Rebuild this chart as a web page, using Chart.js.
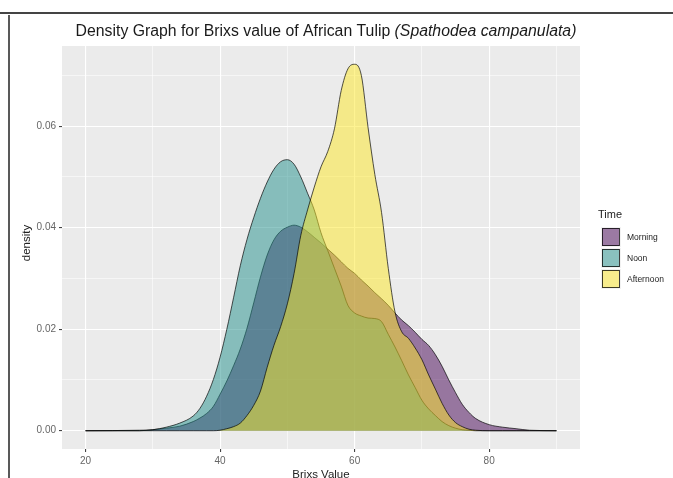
<!DOCTYPE html>
<html>
<head>
<meta charset="utf-8">
<script src="https://cdn.jsdelivr.net/npm/chart.js@4.4.1/dist/chart.umd.min.js"></script>
<style>
    html, body { margin: 0; padding: 0; background: #fff; }
    #wrap { position: relative; width: 673px; height: 478px; }
</style>
</head>
<body>
<div id="wrap"><canvas id="chart" width="673" height="478"></canvas></div>
<script>
// --- dados ---
const brix = [20, 28, 30, 32, 34, 36, 37, 38, 39, 40, 41, 42, 43, 44, 45, 46, 47, 48, 49, 50,
    51, 52, 53, 54, 55, 56, 57, 58, 59, 60, 61, 62, 63, 64, 65, 66, 67, 68, 69, 70,
    71, 72, 73, 74, 75, 76, 77, 78, 80, 82, 84, 86, 90];

const morning = [0, 0, 0.0002, 0.0005, 0.0009, 0.0018, 0.0025, 0.0034, 0.0048, 0.0072, 0.0098, 0.0128, 0.0161, 0.0202, 0.0252, 0.0303, 0.0346, 0.0376, 0.0393, 0.0401,
    0.0405, 0.0401, 0.0392, 0.0381, 0.037, 0.0358, 0.0346, 0.0333, 0.032, 0.031, 0.0297, 0.0285, 0.0272, 0.026, 0.0247, 0.0232, 0.0218, 0.0207, 0.0194, 0.018,
    0.0168, 0.015, 0.0127, 0.0100, 0.0075, 0.0052, 0.0036, 0.0024, 0.0012, 0.0007, 0.0004, 0.0001, 0];

const noon = [0, 0.0001, 0.0002, 0.0007, 0.0015, 0.0029, 0.0044, 0.0068, 0.0101, 0.0145, 0.0200, 0.0262, 0.0325, 0.0377, 0.042, 0.0458, 0.049, 0.0515, 0.053, 0.0534,
    0.0525, 0.050, 0.0468, 0.0435, 0.039, 0.0355, 0.032, 0.0285, 0.0247, 0.0232, 0.0226, 0.0222, 0.0221, 0.0215, 0.019, 0.0165, 0.0138, 0.011, 0.0085, 0.006,
    0.0043, 0.003, 0.0018, 0.001, 0.0005, 0.0002, 0.0001, 0, 0, 0, 0, 0, 0];

const afternoon = [0, 0, 0, 0, 0, 0, 0, 0, 0, 0.0001, 0.0004, 0.0008, 0.0015, 0.003, 0.005, 0.0078, 0.0125, 0.0168, 0.0205, 0.025,
    0.031, 0.0385, 0.0435, 0.048, 0.052, 0.055, 0.0595, 0.067, 0.0713, 0.0722, 0.070, 0.0597, 0.0505, 0.043, 0.032, 0.0234, 0.0195, 0.0182, 0.0163, 0.014,
    0.011, 0.0082, 0.0054, 0.0031, 0.0016, 0.0008, 0.0003, 0.0001, 0, 0, 0, 0, 0];

const seriesNames = ['Morning', 'Noon', 'Afternoon'];
const seriesFill = ['rgba(68, 1, 84, 0.5)', 'rgba(33, 144, 140, 0.5)', 'rgba(253, 231, 37, 0.5)'];
const xTicks = [20, 30, 40, 50, 60, 70, 80, 90];
const yTicks = [0, 0.01, 0.02, 0.03, 0.04, 0.05, 0.06, 0.07];

const FONT = '"Liberation Sans", Arial, sans-serif';

// --- plugin para título, legenda, moldura ---
const decorPlugin = {
    id: 'decor',
    beforeDraw(chart) {
        const { ctx, chartArea: a } = chart;
        ctx.save();
        ctx.fillStyle = '#EBEBEB';
        ctx.fillRect(a.left, a.top, a.right - a.left, a.bottom - a.top);
        ctx.restore();
    },
    afterDraw(chart) {
        const { ctx, chartArea: a } = chart;
        ctx.save();

        // moldura da captura
        ctx.strokeStyle = '#444';
        ctx.lineWidth = 2;
        ctx.beginPath(); ctx.moveTo(0, 13); ctx.lineTo(673, 13); ctx.stroke();
        ctx.lineWidth = 1.5;
        ctx.strokeStyle = '#222';
        ctx.beginPath(); ctx.moveTo(9, 15); ctx.lineTo(9, 478); ctx.stroke();

        // título
        const t1 = 'Density Graph for Brixs value of African Tulip ';
        const t2 = '(Spathodea campanulata)';
        const size = 15.8;
        ctx.fillStyle = '#1a1a1a';
        ctx.textBaseline = 'middle';
        ctx.font = size + 'px ' + FONT;
        const w1 = ctx.measureText(t1).width;
        ctx.font = 'italic ' + size + 'px ' + FONT;
        const w2 = ctx.measureText(t2).width;
        const x0 = 326 - (w1 + w2) / 2;
        ctx.textAlign = 'left';
        ctx.font = size + 'px ' + FONT;
        ctx.fillText(t1, x0, 32);
        ctx.font = 'italic ' + size + 'px ' + FONT;
        ctx.fillText(t2, x0 + w1, 32);

        // títulos dos eixos
        ctx.fillStyle = '#222';
        ctx.font = '11.5px ' + FONT;
        ctx.textAlign = 'center';
        ctx.fillText('Brixs Value', (a.left + a.right) / 2, 475);
        ctx.save();
        ctx.translate(27, 243);
        ctx.rotate(-Math.PI / 2);
        ctx.fillText('density', 0, 0);
        ctx.restore();

        // legenda
        ctx.textAlign = 'left';
        ctx.font = '11px ' + FONT;
        ctx.fillText('Time', 598, 215);
        ctx.font = '8.5px ' + FONT;
        seriesNames.forEach((name, i) => {
            const cy = 237 + i * 21;
            ctx.fillStyle = '#F2F2F2';
            ctx.fillRect(601, cy - 10, 20, 20);
            ctx.fillStyle = seriesFill[i];
            ctx.fillRect(602, cy - 9, 17, 18);
            ctx.strokeStyle = 'rgba(0,0,0,0.75)';
            ctx.lineWidth = 1;
            ctx.strokeRect(602.5, cy - 8.5, 17, 17);
            ctx.fillStyle = '#222';
            ctx.fillText(name, 627, cy + 1);
        });
        ctx.restore();
    }
};

// ordem do ggplot: Morning por baixo, Afternoon por cima
const datasets = [morning, noon, afternoon].map((vals, i) => ({
    label: seriesNames[i],
    data: brix.map((x, j) => ({ x, y: vals[j] })),
    backgroundColor: seriesFill[i],
    borderColor: 'rgba(0,0,0,0.75)',
    borderWidth: 0.9,
    fill: 'origin',
    pointRadius: 0,
    cubicInterpolationMode: 'monotone',
    order: 3 - i,
}));

new Chart(document.getElementById('chart').getContext('2d'), {
    type: 'line',
    data: { datasets },
    plugins: [decorPlugin],
    options: {
        responsive: false,
        animation: false,
        layout: { padding: { left: 0, top: 46, right: 93, bottom: 0 } },
        plugins: { legend: { display: false }, title: { display: false }, tooltip: { enabled: false } },
        scales: {
            x: {
                type: 'linear',
                min: 16.5,
                max: 93.5,
                afterBuildTicks: (s) => { s.ticks = xTicks.map(v => ({ value: v })); },
                afterFit: (s) => { s.height = 29; },
                border: { display: false },
                grid: {
                    color: '#fff',
                    lineWidth: (c) => (c.tick && c.tick.value % 20 === 0) ? 1.1 : 0.55,
                    tickLength: 3,
                    tickColor: (c) => (c.tick && c.tick.value % 20 === 0) ? '#444' : 'rgba(0,0,0,0)',
                    drawTicks: true,
                },
                ticks: {
                    autoSkip: false,
                    maxRotation: 0,
                    padding: 3,
                    color: '#666',
                    font: { family: FONT, size: 10 },
                    callback: (v) => v % 20 === 0 ? String(v) : '',
                },
            },
            y: {
                min: -0.0036,
                max: 0.0758,
                afterBuildTicks: (s) => { s.ticks = yTicks.map(v => ({ value: v })); },
                afterFit: (s) => { s.width = 62; },
                border: { display: false },
                grid: {
                    color: '#fff',
                    lineWidth: (c) => (c.tick && Math.round(c.tick.value * 100) % 2 === 0) ? 1.1 : 0.55,
                    tickLength: 3,
                    tickColor: (c) => (c.tick && Math.round(c.tick.value * 100) % 2 === 0) ? '#444' : 'rgba(0,0,0,0)',
                },
                ticks: {
                    autoSkip: false,
                    padding: 3,
                    color: '#666',
                    font: { family: FONT, size: 10 },
                    callback: (v) => Math.round(v * 100) % 2 === 0 ? v.toFixed(2) : '',
                },
            },
        },
    },
});
</script>
</body>
</html>
